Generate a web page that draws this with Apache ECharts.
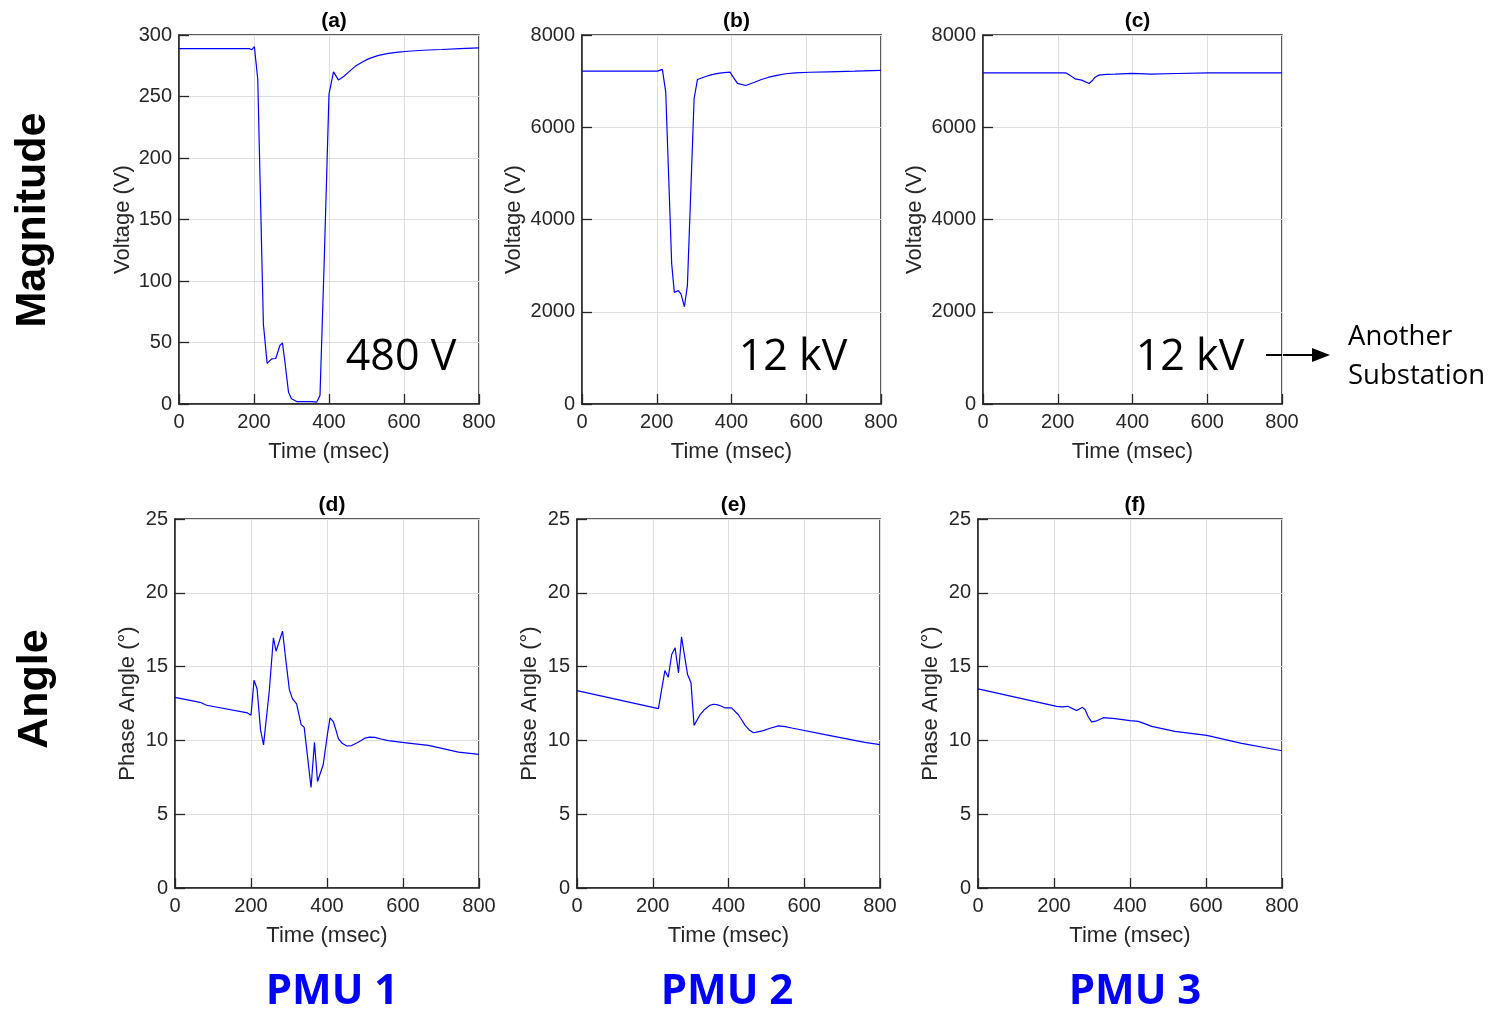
<!DOCTYPE html>
<html>
<head>
<meta charset="utf-8">
<script src="https://cdn.jsdelivr.net/npm/echarts@6/dist/echarts.min.js"></script>
<style>
html,body{margin:0;padding:0;background:#fff;}
#chart{width:1495px;height:1009px;}
</style>
</head>
<body>
<div id="chart"></div>
<script>
// ---- Data (time in msec) ----
const tA = [0,187,194,201,210,225,235,247,258,269,276,283,292,300,314,354,367,376,387,400,412,425,440,452,470,490,505,530,558,585,611,650,700,750,800];
const vA = [289,289,288,290.6,264,65,33,36.7,37,47.6,49.7,32.7,9.6,4.2,2,2,1.5,7,114,252,270,263.5,266.5,269.8,274.5,278.3,280.6,283.2,285,286,286.8,287.6,288.2,288.9,289.6];

const tB = [0,202,204,215,224,240,247,258,265,274,282,300,309,311,329,345,364,380,396,405,416,438,460,480,500,525,545,570,610,659,730,800];
const vB = [7217,7217,7196,7254,6768,3036,2420,2457,2384,2109,2565,6623,7036,7022,7094,7135,7167,7185,7196,7080,6950,6906,6970,7036,7085,7130,7160,7180,7192,7202,7215,7232];

const tC = [0,221,232,246,264,284,292,300,310,330,353,399,450,520,602,700,800];
const vC = [7181,7181,7130,7050,7022,6950,7007,7085,7130,7145,7152,7167,7152,7165,7180,7181,7181];

const tD = [0,66,83,191,200,208,216,225,233,248,259,266,283,292,301,309,320,332,340,358,367,375,390,401,408,412,417,423,430,440,452,465,478,490,500,512,526,545,561,614,667,746,800];
const vD = [12.92,12.58,12.38,11.86,11.7,14.07,13.5,10.73,9.7,13.33,16.95,16.04,17.4,15.36,13.44,12.83,12.47,11.07,10.88,6.81,9.87,7.22,8.35,10.39,11.52,11.45,11.25,10.75,10.12,9.8,9.62,9.65,9.82,10.0,10.16,10.22,10.2,10.08,9.98,9.82,9.66,9.21,9.05];

const tE = [0,215,217,232,241,250,259,268,276,292,301,309,325,337,351,360,369,380,391,408,426,436,444,455,466,480,492,510,532,550,567,655,760,800];
const vE = [13.37,12.15,12.13,14.73,14.28,15.82,16.27,14.58,17.02,14.46,13.9,11.02,11.74,12.1,12.38,12.45,12.42,12.33,12.2,12.2,11.74,11.35,11.02,10.7,10.52,10.6,10.66,10.82,10.98,10.93,10.84,10.39,9.87,9.71];

const tF = [0,207,222,236,260,275,282,290,299,310,330,361,400,422,440,457,518,602,694,800];
const vF = [13.49,12.31,12.27,12.31,12.02,12.24,12.08,11.6,11.25,11.3,11.54,11.47,11.34,11.29,11.12,10.95,10.61,10.34,9.8,9.3];

const panelTitles = ['(a)','(b)','(c)','(d)','(e)','(f)'];
const xTitle = 'Time (msec)';
const yTitles = ['Voltage (V)','Voltage (V)','Voltage (V)','Phase Angle (°)','Phase Angle (°)','Phase Angle (°)'];
const voltLabels = ['480 V','12 kV','12 kV'];
const pmuLabels = ['PMU 1','PMU 2','PMU 3'];
const rowLabels = ['Magnitude','Angle'];
const noteLines = ['Another','Substation'];

// ---- Layout ----
const panels = [
  {t:tA, v:vA, left:179, top:35,  w:300, h:369, ymax:300,  yint:50,   gap:45},
  {t:tB, v:vB, left:582, top:35,  w:299, h:369, ymax:8000, yint:2000, gap:57},
  {t:tC, v:vC, left:983, top:35,  w:299, h:369, ymax:8000, yint:2000, gap:57},
  {t:tD, v:vD, left:175, top:519, w:304, h:369, ymax:25,   yint:5,    gap:36},
  {t:tE, v:vE, left:577, top:519, w:303, h:369, ymax:25,   yint:5,    gap:36},
  {t:tF, v:vF, left:978, top:519, w:304, h:369, ymax:25,   yint:5,    gap:36}
];

const ink = '#262626';
const FONT = 'Liberation Sans, Arial, sans-serif';
const grids = [], xAxes = [], yAxes = [], series = [], titles = [];
const plain = v => String(v);
const TL = 5; // tick length (drawn inside the box)

panels.forEach((p, i) => {
  grids.push({left:p.left, top:p.top, width:p.w, height:p.h, show:true,
              borderColor:ink, borderWidth:1.5, backgroundColor:'#fff'});
  const line = {show:true, lineStyle:{color:ink, width:1.5}};
  const xBase = {gridIndex:i, type:'value', min:0, max:800, interval:200};
  const yBase = {gridIndex:i, type:'value', min:0, max:p.ymax, interval:p.yint};
  const tickOnly = {axisLine:{show:false}, axisLabel:{show:false}, splitLine:{show:false},
    axisTick:{show:true, length:TL, lineStyle:{color:ink, width:1.3}}, offset:-TL};
  // main bottom x axis (labels + grid)
  xAxes.push(Object.assign({}, xBase, {position:'bottom',
    axisLine:line, axisTick:{show:false},
    axisLabel:{show:true, color:ink, fontSize:20, fontFamily:FONT, margin:8, formatter:plain},
    splitLine:{show:true, lineStyle:{color:'#dedede', width:1}},
    name:xTitle, nameLocation:'middle', nameGap:37,
    nameTextStyle:{color:ink, fontSize:22, fontFamily:FONT}}));
  xAxes.push(Object.assign({}, xBase, {position:'bottom'}, tickOnly));
  xAxes.push(Object.assign({}, xBase, {position:'top'}, tickOnly));
  // main left y axis
  yAxes.push(Object.assign({}, yBase, {position:'left',
    axisLine:line, axisTick:{show:false},
    axisLabel:{show:true, color:ink, fontSize:20, fontFamily:FONT, margin:7, formatter:plain},
    splitLine:{show:true, lineStyle:{color:'#dedede', width:1}},
    name:yTitles[i], nameLocation:'middle', nameGap:p.gap,
    nameTextStyle:{color:ink, fontSize:22, fontFamily:FONT}}));
  yAxes.push(Object.assign({}, yBase, {position:'left'}, tickOnly));
  yAxes.push(Object.assign({}, yBase, {position:'right'}, tickOnly));
  series.push({type:'line', xAxisIndex:3*i, yAxisIndex:3*i,
    data:p.t.map((t,k)=>[t,p.v[k]]), showSymbol:false, symbol:'none', smooth:false,
    lineStyle:{color:'#0000ff', width:1.2}, animation:false});
  titles.push({text:panelTitles[i], left:p.left + p.w/2, top:p.top - 29, textAlign:'center',
    textStyle:{fontSize:21, fontWeight:'bold', color:'#000', fontFamily:FONT}});
});

const graphics = [];
graphics.push({type:'text', x:33, y:220, rotation:Math.PI/2,
  style:{text:rowLabels[0], font:'bold 43px Liberation Sans, Arial, sans-serif', fill:'#000', textAlign:'center', textVerticalAlign:'middle'}});
graphics.push({type:'text', x:35, y:689, rotation:Math.PI/2,
  style:{text:rowLabels[1], font:'bold 43px Liberation Sans, Arial, sans-serif', fill:'#000', textAlign:'center', textVerticalAlign:'middle'}});
[[401,358],[793,358],[1190,358]].forEach((c, k) => {
  graphics.push({type:'text', x:c[0], y:c[1], z:10,
    style:{text:voltLabels[k], font:'43px Open Sans, Noto Sans, sans-serif', fill:'#000', textAlign:'center', textVerticalAlign:'middle'}});
});
[[332,992],[727,992],[1135,992]].forEach((c, k) => {
  graphics.push({type:'text', x:c[0], y:c[1],
    style:{text:pmuLabels[k], font:'bold 42px Open Sans, Noto Sans, sans-serif', fill:'#0000ff', textAlign:'center', textVerticalAlign:'middle'}});
});
graphics.push({type:'line', shape:{x1:1266, y1:355, x2:1314, y2:355}, style:{stroke:'#000', lineWidth:2}});
graphics.push({type:'polygon', shape:{points:[[1312,348],[1330,355],[1312,362]]}, style:{fill:'#000'}});
graphics.push({type:'text', x:1348, y:337,
  style:{text:noteLines[0], font:'27.5px Open Sans, Noto Sans, sans-serif', fill:'#000', textAlign:'left', textVerticalAlign:'middle'}});
graphics.push({type:'text', x:1348, y:376,
  style:{text:noteLines[1], font:'27.5px Open Sans, Noto Sans, sans-serif', fill:'#000', textAlign:'left', textVerticalAlign:'middle'}});

const chart = echarts.init(document.getElementById('chart'), null, {renderer:'canvas'});
chart.setOption({
  animation:false,
  backgroundColor:'#fff',
  title:titles,
  grid:grids,
  xAxis:xAxes,
  yAxis:yAxes,
  series:series,
  graphic:graphics
});
</script>
</body>
</html>
